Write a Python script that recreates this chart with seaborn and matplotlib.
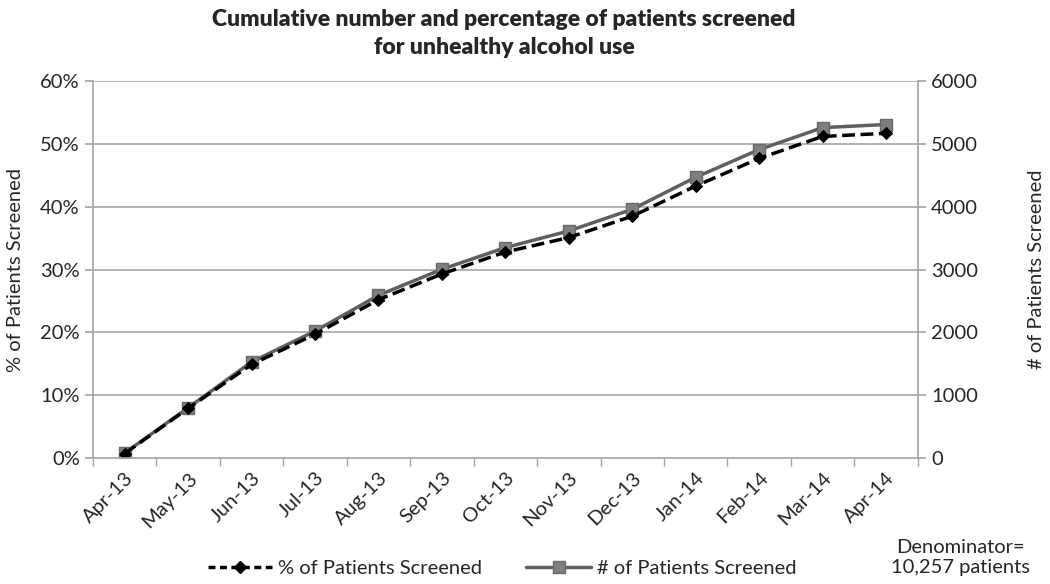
import pandas as pd
import matplotlib.pyplot as plt
import matplotlib.ticker as mtick
from matplotlib.lines import Line2D
import seaborn as sns

sns.set_theme(style="white")
plt.rcParams['font.family'] = ['Lato', 'DejaVu Sans']

# Datos
meses = ['Apr-13', 'May-13', 'Jun-13', 'Jul-13', 'Aug-13', 'Sep-13', 'Oct-13',
         'Nov-13', 'Dec-13', 'Jan-14', 'Feb-14', 'Mar-14', 'Apr-14']
pct_screened = [0.7, 7.9, 14.9, 19.7, 25.2, 29.3, 32.8, 35.1, 38.5, 43.3, 47.7, 51.2, 51.7]
num_screened = [80, 800, 1530, 2020, 2590, 3005, 3350, 3615, 3960, 4470, 4910, 5260, 5310]

df = pd.DataFrame({'Mes': meses, 'Pct': pct_screened, 'Num': num_screened})

fig = plt.figure(figsize=(10.5, 5.84), dpi=100)
ax1 = fig.add_axes([0.0886, 0.2158, 0.7854, 0.6452])
ax2 = ax1.twinx()

gris = '#5f5f5f'
grid_c = '#a6a6a6'

sns.lineplot(data=df, x='Mes', y='Num', sort=False, ax=ax2, color=gris, lw=2.5,
             marker='s', markersize=9, markerfacecolor='#7f7f7f', markeredgecolor='#6a6a6a',
             markeredgewidth=1, zorder=3)
sns.lineplot(data=df, x='Mes', y='Pct', sort=False, ax=ax1, color='black', lw=2.5,
             linestyle='--', dashes=(3, 1.6), marker='D', markersize=6,
             markerfacecolor='black', markeredgecolor='black', zorder=2)

ax1.set_zorder(ax2.get_zorder() + 1)
ax1.patch.set_visible(False)

ax1.set_xlim(-0.5, len(meses) - 0.5)
ax1.set_ylim(0, 60)
ax2.set_ylim(0, 6000)
ax1.set_yticks(range(0, 61, 10))
ax2.set_yticks(range(0, 6001, 1000))
ax1.yaxis.set_major_formatter(mtick.FuncFormatter(lambda v, p: f'{int(v)}%'))

for y in range(10, 61, 10):
    ax2.axhline(y * 100, color=grid_c, lw=1.2, zorder=0)

for ax in (ax1, ax2):
    for s in ax.spines.values():
        s.set_visible(False)
ax1.spines['left'].set_visible(True)
ax1.spines['left'].set_color(grid_c)
ax1.spines['bottom'].set_visible(True)
ax1.spines['bottom'].set_color(grid_c)
ax2.spines['right'].set_visible(True)
ax2.spines['right'].set_color(grid_c)

ax1.set_xticks(range(len(meses)))
ax1.set_xticklabels(meses, rotation=45, ha='right', rotation_mode='anchor', fontsize=14.5)
ax1.set_xticks([i - 0.5 for i in range(len(meses) + 1)], minor=True)
ax1.tick_params(axis='x', which='major', length=0, pad=8)
ax1.tick_params(axis='x', which='minor', length=6, color=grid_c, direction='out', bottom=True)
ax1.tick_params(axis='y', length=6, color=grid_c, direction='out', labelsize=14.5, left=True)
ax2.tick_params(axis='y', length=6, color=grid_c, direction='out', labelsize=14.5, right=True)

ax1.set_xlabel('')
ax1.set_ylabel('% of Patients Screened', fontsize=14.5, labelpad=12)
ax2.set_ylabel('# of Patients Screened', fontsize=14.5, labelpad=36)

fig.text(0.48, 0.985, 'Cumulative number and percentage of patients screened\nfor unhealthy alcohol use',
         ha='center', va='top', fontsize=16.5, fontweight='heavy', linespacing=1.45)

handles = [
    Line2D([], [], color='black', lw=2.5, linestyle='--', dashes=(2, 1.3), marker='D',
           markersize=6, markerfacecolor='black'),
    Line2D([], [], color=gris, lw=2.5, marker='s', markersize=9,
           markerfacecolor='#7f7f7f', markeredgecolor='#6a6a6a'),
]
fig.legend(handles, ['% of Patients Screened', '# of Patients Screened'], loc='center',
           bbox_to_anchor=(0.478, 0.027), ncol=2, frameon=False, fontsize=14.5,
           handlelength=3.2, columnspacing=2.2, handletextpad=0.3)

fig.text(0.915, 0.045, 'Denominator=\n10,257 patients', ha='center', va='center',
         fontsize=14.5, linespacing=1.25)

fig.savefig('out.png', dpi=100)
